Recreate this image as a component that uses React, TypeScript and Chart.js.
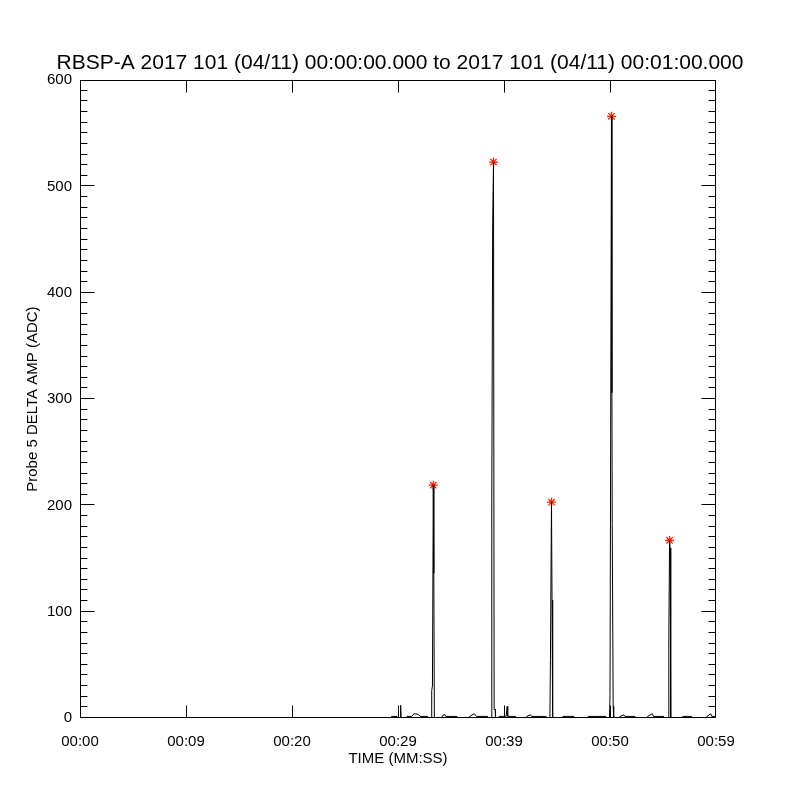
import React, { useEffect, useRef } from "react";
import { Chart, registerables } from "chart.js";

Chart.register(...registerables);

const TITLE = "RBSP-A 2017 101 (04/11) 00:00:00.000 to 2017 101 (04/11) 00:01:00.000";
const X_TITLE = "TIME (MM:SS)";
const Y_TITLE = "Probe 5 DELTA AMP (ADC)";

const X_TICK_VALUES = [0, 10, 20, 30, 40, 50, 60];
const X_TICK_LABELS = ["00:00", "00:09", "00:20", "00:29", "00:39", "00:50", "00:59"];
const Y_MAJOR_TICKS = [0, 100, 200, 300, 400, 500, 600];

// time (s) of each sample
const TIMES = [
  29.3, 29.4, 29.9, 30.0, 30.2, 30.25, 30.3, 30.8, 30.85, 31.3, 31.5, 31.9, 32.1, 32.8, 32.85,
  33.15, 33.18, 33.25, 33.33, 33.38, 33.43,
  34.1, 34.15, 34.4, 34.5, 35.5, 35.55, 36.7, 36.75, 37.2, 37.4, 38.4, 38.45,
  38.8, 38.85, 38.93, 39.01, 39.07, 39.17, 39.2,
  39.5, 39.55, 40.2, 40.3, 40.35, 41.1, 41.15, 42.1, 42.15, 42.5, 42.6, 43.9, 43.95,
  44.33, 44.38, 44.48, 44.53, 44.57, 44.61,
  45.5, 45.55, 46.6, 46.65, 47.9, 47.95, 49.6, 49.65,
  49.95, 50.0, 50.14, 50.18, 50.21, 50.3, 50.35,
  50.9, 50.95, 51.3, 51.4, 52.3, 52.35, 53.5, 53.55, 54.0, 54.1, 55.0, 55.05,
  55.5, 55.55, 55.62, 55.67, 55.73,
  56.8, 56.85, 57.7, 57.75, 59.1, 59.15, 59.5, 59.6, 60.0,
];

// probe 5 delta amplitude (ADC) of each sample
const VALUES = [
  0, 1.5, 1.5, 0, 0, 12, 0, 0, 1.5, 1.5, 4, 3.5, 1.5, 1.5, 0,
  0, 26, 30, 219, 136, 0,
  0, 1.5, 3.5, 1.5, 1.5, 0, 0, 1.5, 4, 1.5, 1.5, 0,
  0, 205, 466, 523, 8, 8, 0,
  0, 1.5, 1.5, 11, 1.5, 1.5, 0, 0, 1.5, 3, 1.5, 1.5, 0,
  0, 55, 203, 111, 9, 0,
  0, 1.5, 1.5, 0, 0, 1.5, 1.5, 0,
  0, 21, 566, 306, 182, 11, 0,
  0, 1.5, 3, 1.5, 1.5, 0, 0, 1.5, 4, 1.5, 1.5, 0,
  0, 76, 167, 160, 0,
  0, 1.5, 1.5, 0, 0, 1.5, 4, 1.5, 1.5,
];

// peaks marked with red asterisks
const PEAK_TIMES = [33.33, 39.01, 44.48, 50.14, 55.62];
const PEAK_VALUES = [219, 523, 203, 566, 167];

const framePlugin = {
  id: "idlFrame",
  afterDraw(chart: any) {
    const { ctx, chartArea } = chart;
    const { left, right, top, bottom } = chartArea;
    const xs = chart.scales.x;
    const ys = chart.scales.y;
    ctx.save();
    ctx.strokeStyle = "#000";
    ctx.lineWidth = 1;
    ctx.beginPath();
    const L = Math.round(left) + 0.5;
    const R = Math.round(right) - 0.5;
    const T = Math.round(top) + 0.5;
    const B = Math.round(bottom) - 0.5;
    ctx.rect(L, T, R - L, B - T);
    // x major ticks
    for (const v of X_TICK_VALUES) {
      let px = Math.round(xs.getPixelForValue(v)) + 0.5;
      px = Math.min(Math.max(px, L), R);
      ctx.moveTo(px, B);
      ctx.lineTo(px, B - 12);
      ctx.moveTo(px, T);
      ctx.lineTo(px, T + 12);
    }
    // y ticks: major every 100, minor every 10
    for (let v = 0; v <= 600; v += 10) {
      const major = Y_MAJOR_TICKS.includes(v);
      const len = major ? 14 : 7;
      let py = Math.round(ys.getPixelForValue(v)) - 0.5;
      py = Math.min(Math.max(py, T), B);
      ctx.moveTo(L, py);
      ctx.lineTo(L + len, py);
      ctx.moveTo(R, py);
      ctx.lineTo(R - len, py);
    }
    ctx.stroke();
    ctx.restore();
  },
};

export default function App() {
  const ref = useRef<HTMLCanvasElement>(null);
  useEffect(() => {
    if (!ref.current) return;
    const lineData = TIMES.map((t, i) => ({ x: t, y: VALUES[i] }));
    const peakData = PEAK_TIMES.map((t, i) => ({ x: t, y: PEAK_VALUES[i] }));
    const font = { family: "'Liberation Sans', Arial, sans-serif", size: 15 };
    const chart = new Chart(ref.current, {
      type: "line",
      data: {
        datasets: [
          {
            label: "delta amp",
            data: lineData,
            borderColor: "#000",
            borderWidth: 1,
            pointRadius: 0,
            tension: 0,
            fill: false,
          },
          {
            label: "peaks",
            data: peakData,
            showLine: false,
            pointStyle: "star",
            pointRadius: 4.5,
            borderColor: "#ff2000",
            backgroundColor: "#ff2000",
            pointBorderWidth: 1.3,
          } as any,
        ],
      },
      options: {
        animation: false,
        responsive: false,
        events: [],
        layout: { padding: 0 },
        plugins: {
          legend: { display: false },
          tooltip: { enabled: false },
          title: {
            display: true,
            text: TITLE,
            color: "#000",
            font: { family: "'Liberation Sans', Arial, sans-serif", size: 21, weight: "normal" },
            padding: { top: 51, bottom: 4 },
          },
        },
        scales: {
          x: {
            type: "linear",
            min: 0,
            max: 60,
            grid: { display: false, drawTicks: false },
            border: { display: false },
            afterBuildTicks: (scale: any) => {
              scale.ticks = X_TICK_VALUES.map((v) => ({ value: v }));
            },
            afterFit: (scale: any) => {
              scale.height = 82;
            },
            ticks: {
              autoSkip: false,
              maxRotation: 0,
              color: "#000",
              font,
              padding: 15,
              callback: (_v: any, i: number) => X_TICK_LABELS[i],
            },
            title: {
              display: true,
              text: X_TITLE,
              color: "#000",
              font,
              padding: { top: 0, bottom: 32 },
            },
          },
          y: {
            type: "linear",
            min: 0,
            max: 600,
            grid: { display: false, drawTicks: false },
            border: { display: false },
            afterBuildTicks: (scale: any) => {
              scale.ticks = Y_MAJOR_TICKS.map((v) => ({ value: v }));
            },
            afterFit: (scale: any) => {
              scale.width = 80;
            },
            ticks: {
              autoSkip: false,
              color: "#000",
              font,
              padding: 8,
              callback: (v: any) => String(v),
            },
            title: {
              display: true,
              text: Y_TITLE,
              color: "#000",
              font,
              padding: { top: 24, bottom: 0 },
            },
          },
          yRight: {
            type: "linear",
            position: "right",
            min: 0,
            max: 600,
            grid: { display: false, drawTicks: false },
            border: { display: false },
            ticks: { display: false },
            afterFit: (scale: any) => {
              scale.width = 84;
            },
          },
        },
      },
      plugins: [framePlugin],
    });
    return () => chart.destroy();
  }, []);
  return (
    <div style={{ position: "fixed", left: 0, top: 0, width: 800, height: 800, background: "#fff" }}>
      <canvas ref={ref} width={800} height={800} style={{ width: 800, height: 800 }} />
    </div>
  );
}
